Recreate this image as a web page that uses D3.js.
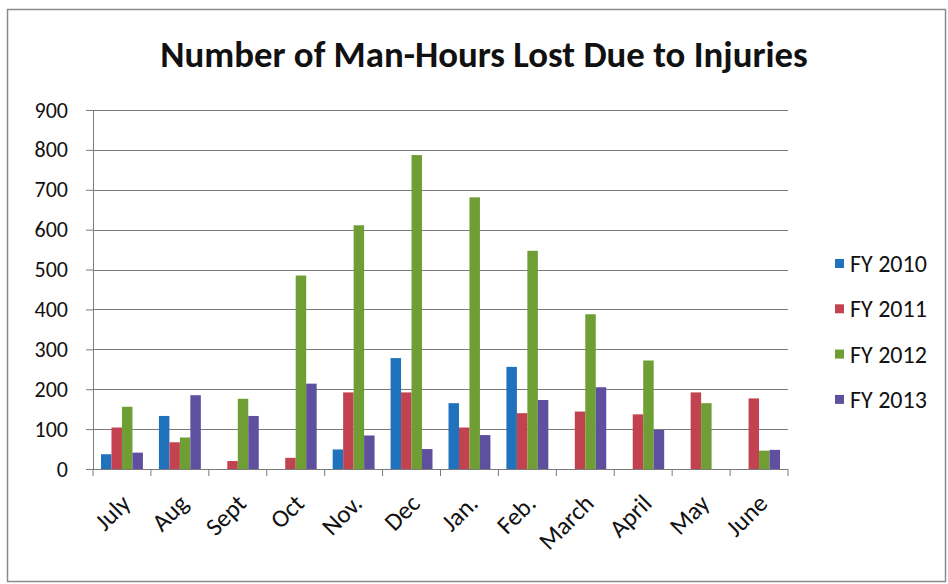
<!DOCTYPE html>
<html lang="en">
<head>
<meta charset="utf-8">
<script src="https://d3js.org/d3.v7.min.js"></script>
<style>
  body { margin: 0; background: #fff; }
  svg text { font-family: Calibri, Carlito, Lato, sans-serif; fill: #111; }
  .grid line { stroke: #7a7a7a; stroke-width: 1; }
  .axis path, .axis line { stroke: #7a7a7a; }
</style>
</head>
<body>
<script>
// chart values
var months = ["July", "Aug", "Sept", "Oct", "Nov.", "Dec", "Jan.", "Feb.", "March", "April", "May", "June"];
var seriesNames = ["FY 2010", "FY 2011", "FY 2012", "FY 2013"];
var fy2010 = [37, 133, 0, 0, 49, 278, 165, 256, 0, 0, 0, 0];
var fy2011 = [104, 67, 20, 28, 192, 192, 104, 140, 144, 137, 192, 177];
var fy2012 = [156, 79, 176, 485, 611, 787, 681, 547, 388, 272, 165, 46];
var fy2013 = [41, 185, 133, 214, 84, 50, 85, 173, 205, 98, 0, 48];
var yTicks = [0, 100, 200, 300, 400, 500, 600, 700, 800, 900];
var colors = ["#1f72bb", "#c2434f", "#6e9e34", "#5f4f9f"];

var allSeries = [fy2010, fy2011, fy2012, fy2013];

var W = 948, H = 584;
var plot = {left: 93, right: 788, top: 110, bottom: 469};

var svg = d3.select("body").append("svg")
    .attr("width", W)
    .attr("height", H);

// outer chart frame
svg.append("rect")
    .attr("x", 7.5).attr("y", 9.5)
    .attr("width", 938).attr("height", 572)
    .attr("fill", "#fff")
    .attr("stroke", "#8a8a8a")
    .attr("stroke-width", 1.5);

var x0 = d3.scaleBand().domain(months).range([plot.left, plot.right]).padding(0);
var x1 = d3.scaleBand().domain(seriesNames).range([8, x0.bandwidth() - 8]).padding(0);
var y = d3.scaleLinear().domain([0, 900]).range([plot.bottom, plot.top]);

// horizontal gridlines
svg.append("g").attr("class", "grid")
  .selectAll("line")
  .data(yTicks.filter(function(d){ return d > 0; }))
  .enter().append("line")
    .attr("x1", plot.left).attr("x2", plot.right)
    .attr("y1", function(d){ return Math.round(y(d)) + 0.5; })
    .attr("y2", function(d){ return Math.round(y(d)) + 0.5; });

// bars
var groups = svg.append("g").selectAll("g")
  .data(months)
  .enter().append("g")
    .attr("transform", function(d){ return "translate(" + x0(d) + ",0)"; });

groups.selectAll("rect")
  .data(function(m, i){
    return seriesNames.map(function(s, j){ return {s: s, j: j, v: allSeries[j][i]}; });
  })
  .enter().append("rect")
    .attr("x", function(d){ return x1(d.s); })
    .attr("y", function(d){ return y(d.v); })
    .attr("width", x1.bandwidth())
    .attr("height", function(d){ return y(0) - y(d.v); })
    .attr("fill", function(d){ return colors[d.j]; });

// y axis
var yAxis = svg.append("g").attr("class", "axis")
    .attr("transform", "translate(" + plot.left + ",0)")
    .call(d3.axisLeft(y).tickValues(yTicks).tickSize(7).tickPadding(18).tickSizeOuter(0));
yAxis.selectAll("text").style("font-size", "22px");

// x axis with ticks between categories
var xAxis = svg.append("g").attr("class", "axis")
    .attr("transform", "translate(0," + plot.bottom + ")");
xAxis.append("line")
    .attr("x1", plot.left).attr("x2", plot.right)
    .attr("y1", 0.5).attr("y2", 0.5);
xAxis.selectAll(".tk")
  .data(months.concat(["end"]))
  .enter().append("line")
    .attr("class", "tk")
    .attr("x1", function(d, i){ return plot.left + i * x0.step(); })
    .attr("x2", function(d, i){ return plot.left + i * x0.step(); })
    .attr("y1", 0).attr("y2", 7);

xAxis.selectAll(".lbl")
  .data(months)
  .enter().append("text")
    .attr("class", "lbl")
    .attr("text-anchor", "end")
    .attr("transform", function(d){
      return "translate(" + (x0(d) + x0.bandwidth() / 2 + 10) + ",36) rotate(-45)";
    })
    .style("font-size", "25px")
    .text(function(d){ return d; });

// title
svg.append("text")
    .attr("x", 484).attr("y", 67)
    .attr("text-anchor", "middle")
    .style("font-size", "36.8px")
    .style("font-weight", "bold")
    .text("Number of Man-Hours Lost Due to Injuries");

// legend
var legend = svg.append("g").selectAll("g")
  .data(seriesNames)
  .enter().append("g")
    .attr("transform", function(d, i){ return "translate(835," + (264 + i * 45.3) + ")"; });
legend.append("rect")
    .attr("x", 0).attr("y", -5)
    .attr("width", 9).attr("height", 9)
    .attr("fill", function(d, i){ return colors[i]; });
legend.append("text")
    .attr("x", 15).attr("y", 8)
    .style("font-size", "24px")
    .text(function(d){ return d; });
</script>
</body>
</html>
